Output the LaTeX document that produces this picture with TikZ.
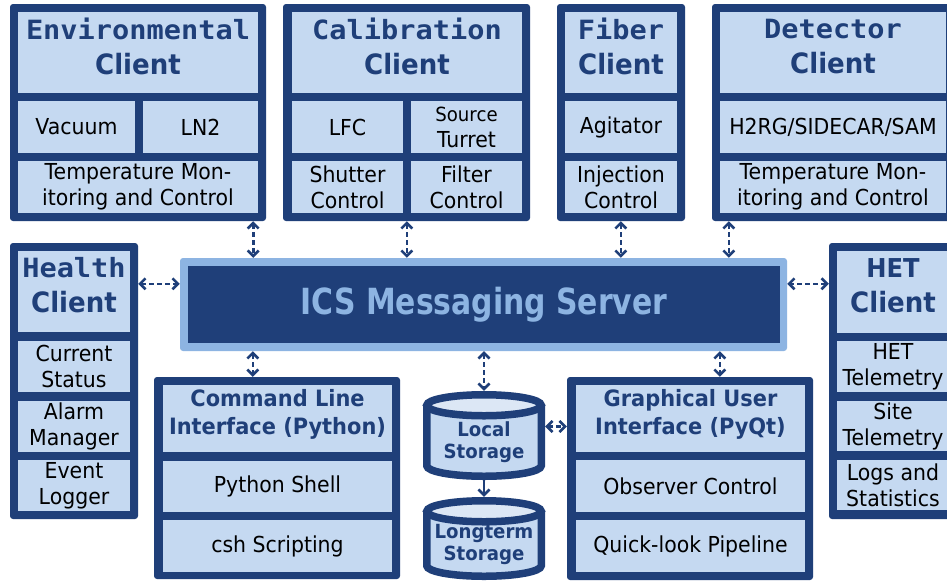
\documentclass[tikz,border=0pt]{standalone}
\usepackage{fontspec}
\setmainfont{DejaVu Sans}[FakeStretch=0.93]
\newfontfamily\monofam{DejaVu Sans Mono}[FakeStretch=1.08]
\newfontfamily\srvfam{DejaVu Sans}[FakeStretch=0.83]
\usetikzlibrary{arrows.meta}
\definecolor{dark}{HTML}{1F3F79}
\definecolor{light}{HTML}{C5D9F1}
\definecolor{lighter}{HTML}{DCE7F5}
\definecolor{srvlight}{HTML}{8DB4E2}
\newcommand\bodyf{\fontsize{22}{26}\selectfont}
\newcommand\ttlf{\fontsize{28}{35}\selectfont\bfseries}
\newcommand\monot{\monofam\fontsize{26.5}{35}\selectfont\bfseries}
\newcommand\subtf{\fontsize{22.5}{28}\selectfont\bfseries}
\newcommand\storf{\fontsize{19.5}{22}\selectfont\bfseries}
% [style] name x1 y1 x2 y2 text
\newcommand{\bx}[7][]{\node[#1, minimum width={(#5-#3)*1pt}, minimum height={(#6-#4)*1pt}] (#2) at ({(#3+#5)/2},{-(#4+#6)/2}) {#7};}
% [textstyle] name x1 y1 x2 y2 text yshift
\newcommand{\tbx}[8][ttltext]{\bx[fill=light, inner sep=0pt]{#2}{#3}{#4}{#5}{#6}{}\node[#1] (#2x) at ([yshift=#8]#2.center) {#7};}
\tikzset{
  outer/.style={fill=dark, rounded corners=3pt, inner sep=0pt},
  cell/.style={fill=light, inner sep=0pt, align=center, font=\bodyf, text=black},
  ttltext/.style={inner sep=0pt, align=center, font=\ttlf, text=dark},
  subttext/.style={inner sep=0pt, align=center, font=\subtf, text=dark},
  link/.style={draw=dark, line width=2.6pt, dash pattern=on 5pt off 3pt, {Straight Barb[length=5.5pt,width=11pt]}-{Straight Barb[length=5.5pt,width=11pt]}},
  solidlink/.style={draw=dark, line width=2.6pt, -{Straight Barb[length=5.5pt,width=11pt]}},
  cylline/.style={draw=dark, line width=7.5pt},
}
\newcommand{\cyl}[6]{% name cx top bottom textcenter text
  \pgfmathsetmacro\yt{-(#3+3.75+10.5)}
  \pgfmathsetmacro\yb{-(#4-3.75-10.5)}
  \fill[light] ({#2-57.25},\yt) -- ({#2-57.25},\yb) arc[start angle=180,end angle=360,x radius=57.25,y radius=10.5] -- ({#2+57.25},\yt) -- cycle;
  \fill[lighter] (#2,\yt) ellipse[x radius=57.25,y radius=10.5];
  \draw[cylline] ({#2-57.25},\yt) -- ({#2-57.25},\yb) arc[start angle=180,end angle=360,x radius=57.25,y radius=10.5] -- ({#2+57.25},\yt);
  \draw[cylline] (#2,\yt) ellipse[x radius=57.25,y radius=10.5];
  \node[inner sep=0pt, minimum width=122pt, minimum height={(#4-#3)*1pt}] (#1) at (#2,{-(#3+#4)/2}) {};
  \node[align=center, font=\storf, text=dark, inner sep=0pt] (#1x) at (#2,{-#5}) {#6};
}
\begin{document}
\begin{tikzpicture}[x=1pt,y=1pt]
\path[use as bounding box] (0,0) rectangle (947,-581);
\fill[white] (0,0) rectangle (947,-581);
\clip (0,0) rectangle (947,-581);
% Environmental
\bx[outer]{env}{10}{4}{266}{221}{}
\tbx{envt}{18}{12}{258}{93}{{\monot Environmental}\\Client}{6pt}
\bx[cell]{vac}{18}{101}{135}{153}{Vacuum}
\bx[cell]{ln2}{143}{101}{258}{153}{LN2}
\bx[cell]{envtmp}{18}{161}{258}{213}{\fontsize{22}{25}\selectfont Temperature Mon-\\itoring and Control}
% Calibration
\bx[outer]{cal}{283}{4}{530}{221}{}
\tbx{calt}{292}{12}{522}{93}{{\monot Calibration}\\Client}{6pt}
\bx[cell]{lfc}{292}{101}{403}{153}{LFC}
\bx[cell]{src}{411}{101}{522}{153}{\fontsize{19.5}{26}\selectfont Source\\Turret}
\bx[cell]{shut}{292}{161}{403}{213}{Shutter\\Control}
\bx[cell]{filt}{411}{161}{522}{213}{Filter\\Control}
% Fiber
\bx[outer]{fib}{557}{4}{685}{221}{}
\tbx{fibt}{565}{12}{677}{93}{{\monot Fiber}\\Client}{6pt}
\bx[cell]{agit}{565}{101}{677}{153}{Agitator}
\bx[cell]{inj}{565}{161}{677}{213}{Injection\\Control}
% Detector
\bx[outer]{det}{712}{4}{956}{221}{}
\tbx{dett}{720}{12}{946}{93}{{\monot Detector}\\Client}{6pt}
\bx[cell]{h2rg}{720}{101}{946}{153}{H2RG/SIDECAR/SAM}
\bx[cell]{dettmp}{720}{161}{946}{213}{\fontsize{22}{25}\selectfont Temperature Mon-\\itoring and Control}
% Health
\bx[outer]{hea}{10}{243}{138}{519}{}
\tbx{heat}{18}{251}{130}{332}{{\monot Health}\\Client}{6pt}
\bx[cell]{cur}{18}{341}{130}{392}{Current\\Status}
\bx[cell]{alarm}{18}{401}{130}{452}{Alarm\\Manager}
\bx[cell]{evt}{18}{460}{130}{511}{Event\\Logger}
% HET
\bx[outer]{het}{829}{243}{960}{519}{}
\tbx{hett}{837}{251}{949}{333}{{\fontsize{26}{35}\selectfont HET}\\Client}{6pt}
\bx[cell]{hettel}{837}{341}{949}{392}{HET\\Telemetry}
\bx[cell]{site}{837}{401}{949}{451}{Site\\Telemetry}
\bx[cell]{logs}{837}{460}{949}{510}{Logs and\\Statistics}
% Server
\bx[fill=srvlight, rounded corners=3pt, inner sep=0pt]{srvout}{180}{258}{787}{351}{}
\bx[fill=dark, inner sep=0pt, text=srvlight, font={\srvfam\fontsize{36}{40}\selectfont\bfseries}]{srv}{188}{266}{780}{343}{ICS Messaging Server}
% CLI
\bx[outer]{cli}{154}{377}{400}{579}{}
\tbx[subttext]{clit}{163}{385}{392}{452}{Command Line\\Interface (Python)}{4pt}
\bx[cell]{pysh}{163}{461}{392}{512}{Python Shell}
\bx[cell]{csh}{163}{520}{392}{572}{csh Scripting}
% GUI
\bx[outer]{gui}{567}{377}{813}{580}{}
\tbx[subttext]{guit}{576}{385}{805}{452}{Graphical User\\Interface (PyQt)}{4pt}
\bx[cell]{obs}{576}{460}{805}{512}{Observer Control}
\bx[cell]{ql}{576}{520}{805}{572}{Quick-look Pipeline}
% Storage
\cyl{local}{484}{391}{480}{442}{Local\\Storage}
\cyl{longt}{484}{497}{580}{544}{Longterm\\Storage}
% connectors
\coordinate (a1) at ([xshift=-13pt]env.south east);
\coordinate (a2) at ([xshift=124pt]cal.south west);
\coordinate (a3) at ([xshift=64pt]fib.south west);
\coordinate (a4) at ([xshift=17pt]det.south west);
\foreach \p in {a1,a2,a3,a4} \draw[link] (\p) -- (\p |- srvout.north);
\coordinate (h1) at ([yshift=-41pt]hea.north east);
\draw[link] (h1) -- (h1 -| srvout.west);
\coordinate (h2) at ([yshift=-41pt]het.north west);
\draw[link] (h2) -- (h2 -| srvout.east);
\coordinate (b1) at ([xshift=99pt]cli.north west);
\draw[link] (b1 |- srvout.south) -- (b1);
\draw[link] (srvout.south -| local.north) -- (local.north);
\coordinate (b3) at ([xshift=153pt]gui.north west);
\draw[link] (b3 |- srvout.south) -- (b3);
\coordinate (s1) at ([yshift=9pt]local.east);
\draw[link] (s1) -- (s1 -| gui.west);
\draw[solidlink] (local.south) -- (longt.north);
\end{tikzpicture}
\end{document}
